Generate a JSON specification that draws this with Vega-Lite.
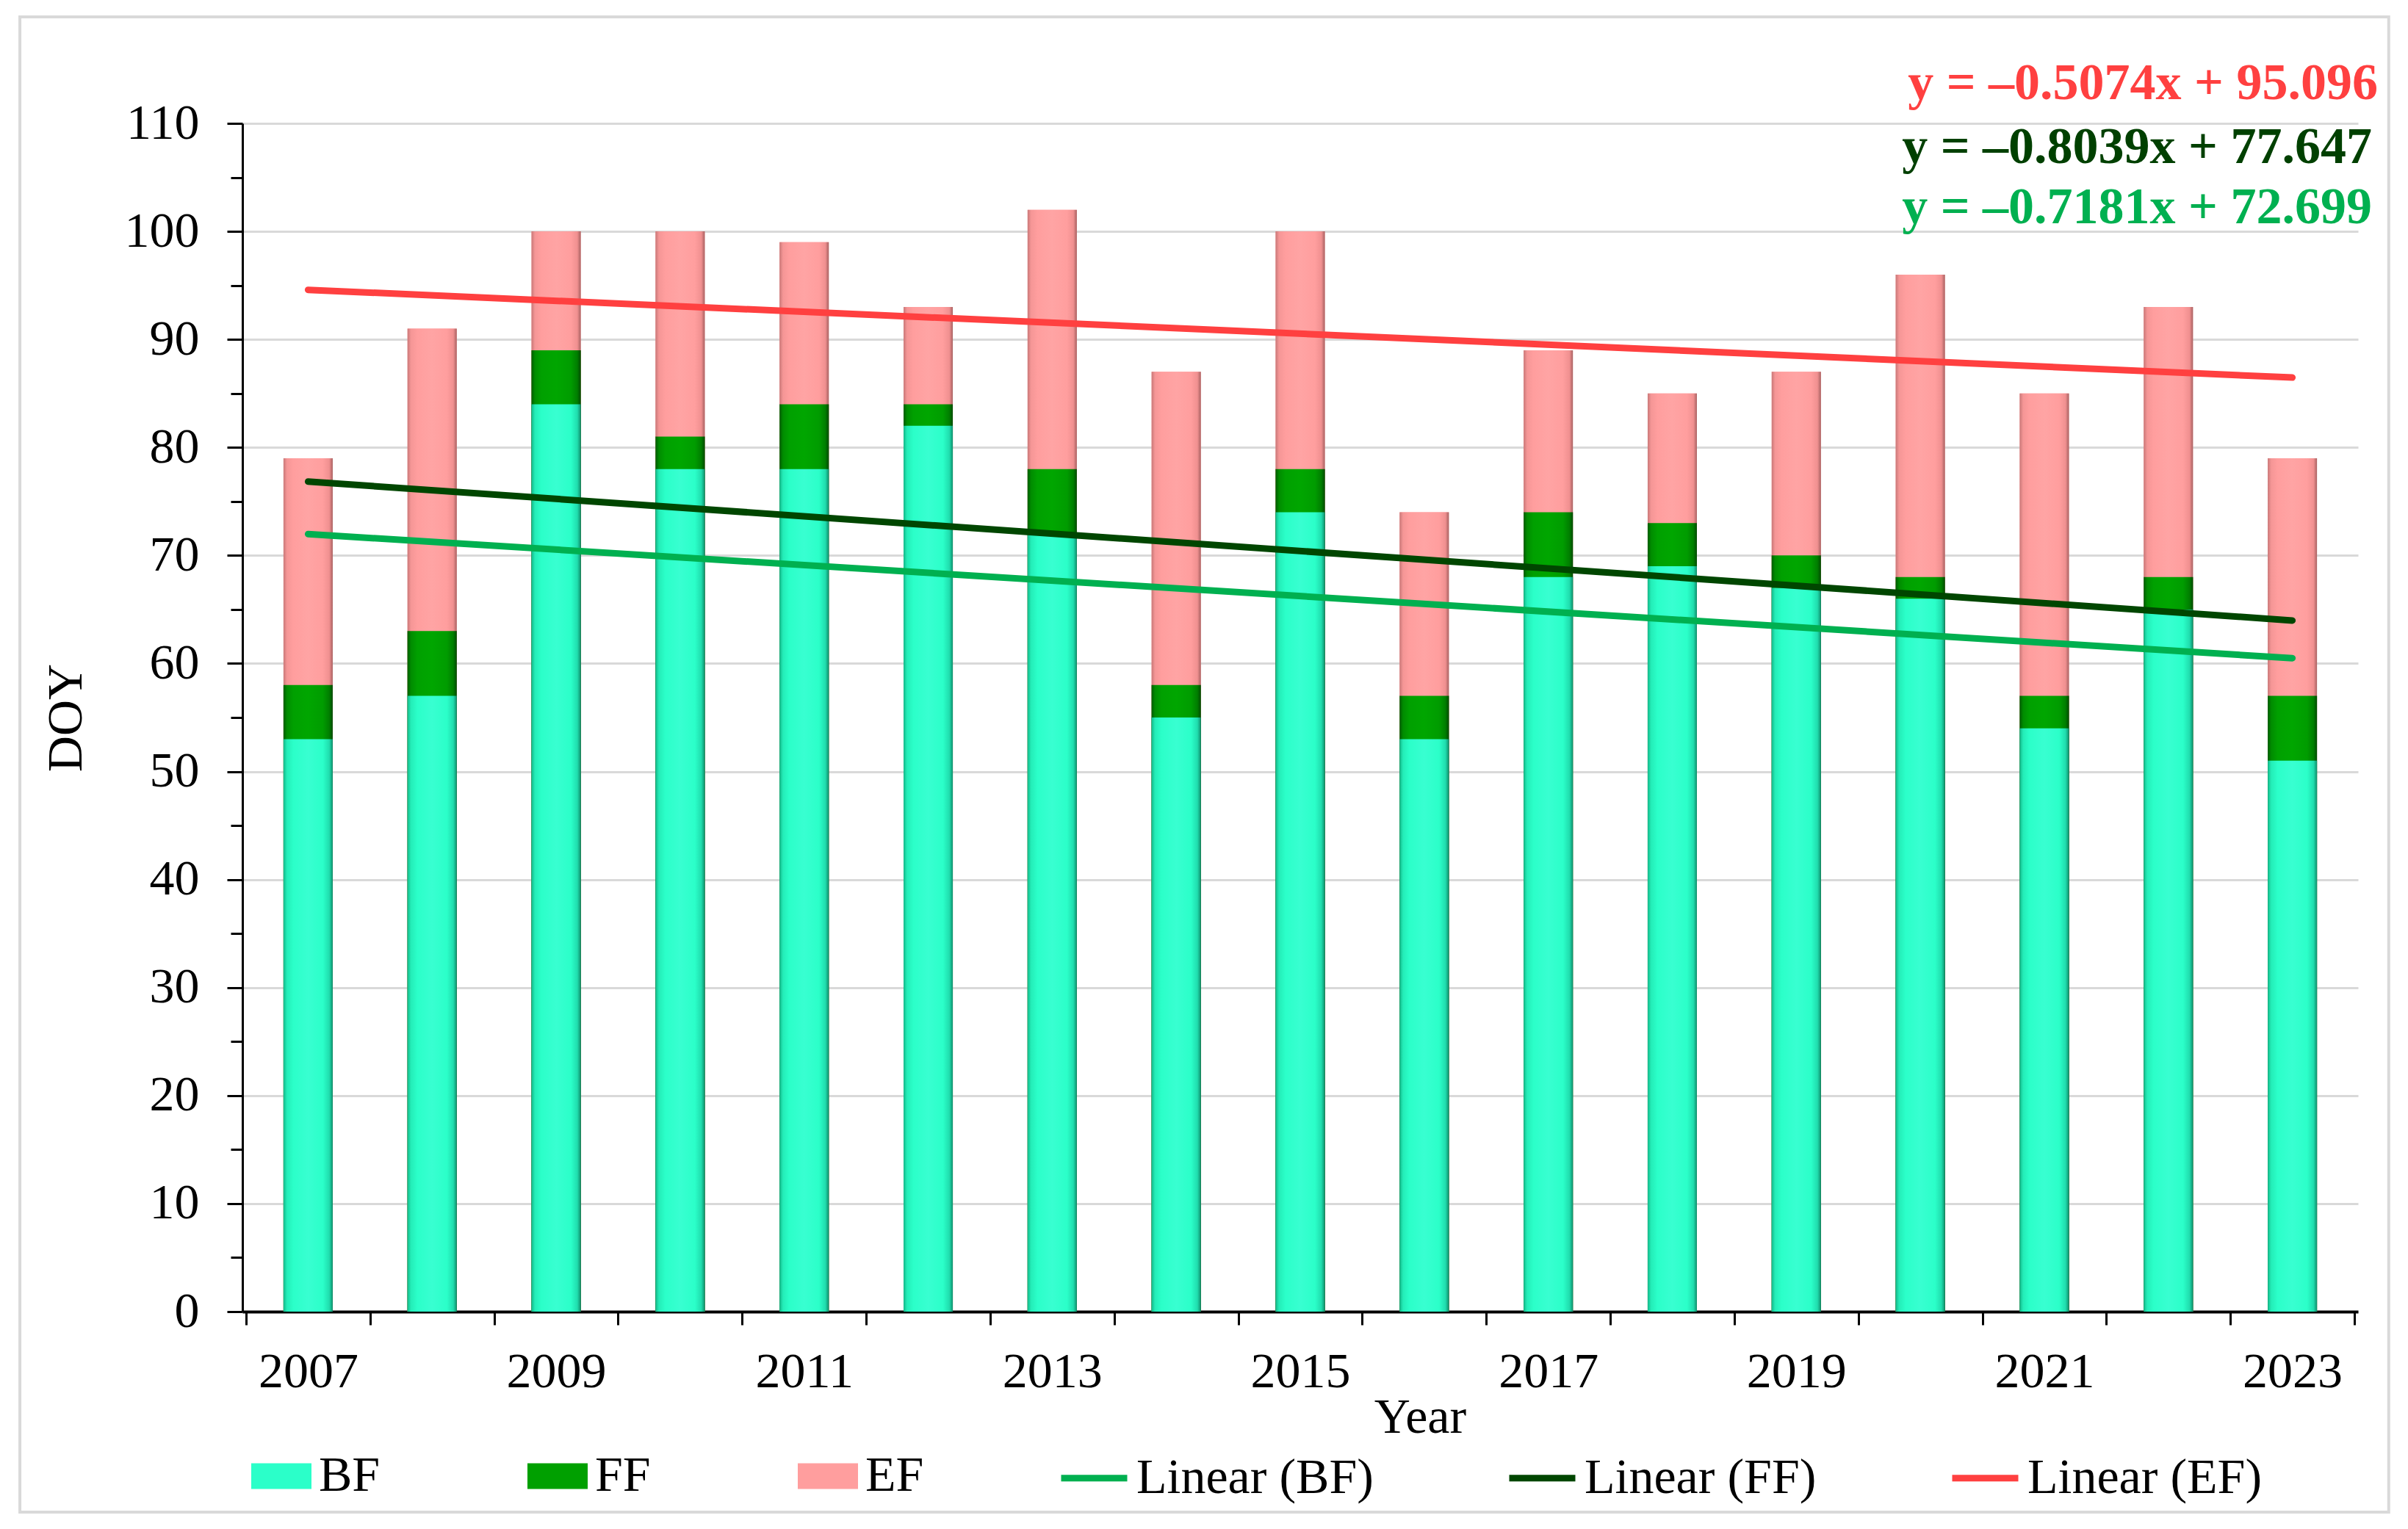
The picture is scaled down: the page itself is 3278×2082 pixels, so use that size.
{
  "$schema": "https://vega.github.io/schema/vega-lite/v6.json",
  "width": 2880,
  "height": 1618,
  "autosize": {"type": "none"},
  "padding": {"left": 330, "top": 168, "right": 68, "bottom": 296},
  "background": "white",
  "config": {
    "view": {"stroke": null},
    "font": "Liberation Serif",
    "text": {"font": "Liberation Serif"}
  },
  "data": {
    "values": [
      {"Year": 2007, "BF": 53, "FF": 58, "EF": 79},
      {"Year": 2008, "BF": 57, "FF": 63, "EF": 91},
      {"Year": 2009, "BF": 84, "FF": 89, "EF": 100},
      {"Year": 2010, "BF": 78, "FF": 81, "EF": 100},
      {"Year": 2011, "BF": 78, "FF": 84, "EF": 99},
      {"Year": 2012, "BF": 82, "FF": 84, "EF": 93},
      {"Year": 2013, "BF": 72, "FF": 78, "EF": 102},
      {"Year": 2014, "BF": 55, "FF": 58, "EF": 87},
      {"Year": 2015, "BF": 74, "FF": 78, "EF": 100},
      {"Year": 2016, "BF": 53, "FF": 57, "EF": 74},
      {"Year": 2017, "BF": 68, "FF": 74, "EF": 89},
      {"Year": 2018, "BF": 69, "FF": 73, "EF": 85},
      {"Year": 2019, "BF": 67, "FF": 70, "EF": 87},
      {"Year": 2020, "BF": 66, "FF": 68, "EF": 96},
      {"Year": 2021, "BF": 54, "FF": 57, "EF": 85},
      {"Year": 2022, "BF": 65, "FF": 68, "EF": 93},
      {"Year": 2023, "BF": 51, "FF": 57, "EF": 79}
    ]
  },
  "layer": [
    {
      "transform": [{"fold": ["EF", "FF", "BF"], "as": ["series", "val"]}],
      "mark": {"type": "bar", "size": 67},
      "encoding": {
        "x": {
          "field": "Year",
          "type": "quantitative",
          "title": "Year",
          "scale": {"domain": [2006.5, 2023.5], "nice": false, "zero": false},
          "axis": {
            "values": [2006.5, 2007, 2007.5, 2008, 2008.5, 2009, 2009.5, 2010, 2010.5, 2011, 2011.5, 2012, 2012.5, 2013, 2013.5, 2014, 2014.5, 2015, 2015.5, 2016, 2016.5, 2017, 2017.5, 2018, 2018.5, 2019, 2019.5, 2020, 2020.5, 2021, 2021.5, 2022, 2022.5, 2023, 2023.5],
            "labelExpr": "datum.value % 2 == 1 ? datum.value : ''",
            "labelFont": "Liberation Serif",
            "labelFontSize": 68,
            "labelColor": "black",
            "labelPadding": 30,
            "labelFlush": false,
            "labelOverlap": false,
            "tickSize": 18,
            "tickWidth": 3,
            "tickColor": "black",
            "tickOpacity": {"condition": {"test": "datum.value % 1 != 0", "value": 1}, "value": 0},
            "domainColor": "black",
            "domainWidth": 4,
            "grid": false,
            "titleFont": "Liberation Serif",
            "titleFontSize": 68,
            "titleFontWeight": "normal",
            "titleColor": "black",
            "titleX": 1603,
            "titleY": 164,
            "titleBaseline": "alphabetic",
            "titleAlign": "center"
          }
        },
        "y": {
          "field": "val",
          "type": "quantitative",
          "title": "DOY",
          "stack": null,
          "scale": {"domain": [0, 110], "nice": false},
          "axis": {
            "values": [0, 5, 10, 15, 20, 25, 30, 35, 40, 45, 50, 55, 60, 65, 70, 75, 80, 85, 90, 95, 100, 105, 110],
            "labelExpr": "datum.value % 10 == 0 ? datum.value : ''",
            "labelFont": "Liberation Serif",
            "labelFontSize": 68,
            "labelColor": "black",
            "labelPadding": 38,
            "labelFlush": false,
            "labelOverlap": false,
            "tickSize": {"condition": {"test": "datum.value % 10 != 0", "value": 16}, "value": 21},
            "tickWidth": 3,
            "tickColor": "black",
            "domainColor": "black",
            "domainWidth": 3,
            "grid": true,
            "gridColor": "#D9D9D9",
            "gridWidth": 3,
            "gridOpacity": {"condition": {"test": "datum.value % 10 == 0", "value": 1}, "value": 0},
            "titleFont": "Liberation Serif",
            "titleFontSize": 68,
            "titleFontWeight": "normal",
            "titleColor": "black",
            "titlePadding": 45
          }
        },
        "fill": {
          "field": "series",
          "type": "nominal",
          "scale": {"domain": ["BF", "FF", "EF"], "range": ["#2BFFC9", "#00A000", "#FF9E9E"]},
          "legend": {
            "orient": "none",
            "legendX": 12,
            "legendY": 1801,
            "direction": "horizontal",
            "title": null,
            "symbolType": "M-1,-0.427L1,-0.427L1,0.427L-1,0.427Z",
            "symbolSize": 6724,
            "symbolStrokeWidth": 0,
            "symbolOpacity": 1,
            "labelFont": "Liberation Serif",
            "labelFontSize": 68,
            "labelColor": "black",
            "labelOffset": 10,
            "labelLimit": 0,
            "columnPadding": 200
          }
        }
      }
    },
    {
      "transform": [{"fold": ["EF"], "as": ["series", "val"]}],
      "mark": {
        "type": "bar",
        "size": 67,
        "color": {
          "gradient": "linear", "x1": 0, "y1": 0, "x2": 1, "y2": 0,
          "stops": [
            {"offset": 0, "color": "#C97878"},
            {"offset": 0.07, "color": "#F59696"},
            {"offset": 0.2, "color": "#FF9E9E"},
            {"offset": 0.5, "color": "#FFA4A4"},
            {"offset": 0.8, "color": "#FF9E9E"},
            {"offset": 0.93, "color": "#F09090"},
            {"offset": 1, "color": "#A86262"}
          ]
        }
      },
      "encoding": {
        "x": {"field": "Year", "type": "quantitative", "title": "Year"},
        "y": {"field": "val", "type": "quantitative", "title": "DOY", "stack": null}
      }
    },
    {
      "transform": [{"fold": ["FF"], "as": ["series", "val"]}],
      "mark": {
        "type": "bar",
        "size": 67,
        "color": {
          "gradient": "linear", "x1": 0, "y1": 0, "x2": 1, "y2": 0,
          "stops": [
            {"offset": 0, "color": "#005C00"},
            {"offset": 0.07, "color": "#008C00"},
            {"offset": 0.2, "color": "#00A000"},
            {"offset": 0.5, "color": "#00A600"},
            {"offset": 0.8, "color": "#009C00"},
            {"offset": 0.93, "color": "#007E00"},
            {"offset": 1, "color": "#004A00"}
          ]
        }
      },
      "encoding": {
        "x": {"field": "Year", "type": "quantitative", "title": "Year"},
        "y": {"field": "val", "type": "quantitative", "title": "DOY", "stack": null}
      }
    },
    {
      "transform": [{"fold": ["BF"], "as": ["series", "val"]}],
      "mark": {
        "type": "bar",
        "size": 67,
        "color": {
          "gradient": "linear", "x1": 0, "y1": 0, "x2": 1, "y2": 0,
          "stops": [
            {"offset": 0, "color": "#14B88A"},
            {"offset": 0.07, "color": "#24EDB8"},
            {"offset": 0.2, "color": "#2BFFC9"},
            {"offset": 0.5, "color": "#38FFD1"},
            {"offset": 0.8, "color": "#2BFFC9"},
            {"offset": 0.93, "color": "#20DDAE"},
            {"offset": 1, "color": "#0F8F6C"}
          ]
        }
      },
      "encoding": {
        "x": {"field": "Year", "type": "quantitative", "title": "Year"},
        "y": {"field": "val", "type": "quantitative", "title": "DOY", "stack": null}
      }
    },
    {
      "transform": [{"regression": "BF", "on": "Year"}],
      "mark": {"type": "line", "strokeWidth": 9, "strokeCap": "round"},
      "encoding": {
        "x": {"field": "Year", "type": "quantitative", "title": "Year"},
        "y": {"field": "BF", "type": "quantitative", "title": "DOY"},
        "stroke": {
          "datum": "Linear (BF)",
          "type": "nominal",
          "scale": {"domain": ["Linear (BF)", "Linear (FF)", "Linear (EF)"], "range": ["#00B050", "#004600", "#FF4040"]},
          "legend": {
            "orient": "none",
            "legendX": 1110,
            "legendY": 1795,
            "direction": "horizontal",
            "title": null,
            "symbolType": "stroke",
            "symbolSize": 8100,
            "symbolStrokeWidth": 9,
            "labelFont": "Liberation Serif",
            "labelFontSize": 68,
            "labelColor": "black",
            "labelOffset": 8,
            "labelLimit": 0,
            "columnPadding": 166
          }
        }
      }
    },
    {
      "transform": [{"regression": "FF", "on": "Year"}],
      "mark": {"type": "line", "strokeWidth": 9, "strokeCap": "round"},
      "encoding": {
        "x": {"field": "Year", "type": "quantitative", "title": "Year"},
        "y": {"field": "FF", "type": "quantitative", "title": "DOY"},
        "stroke": {"datum": "Linear (FF)", "type": "nominal"}
      }
    },
    {
      "transform": [{"regression": "EF", "on": "Year"}],
      "mark": {"type": "line", "strokeWidth": 9, "strokeCap": "round"},
      "encoding": {
        "x": {"field": "Year", "type": "quantitative", "title": "Year"},
        "y": {"field": "EF", "type": "quantitative", "title": "DOY"},
        "stroke": {"datum": "Linear (EF)", "type": "nominal"}
      }
    },
    {
      "data": {"values": [{"frame": "border"}]},
      "mark": {"type": "rect", "fillOpacity": 0, "stroke": "#D9D9D9", "strokeWidth": 4},
      "encoding": {
        "x": {"datum": 2004.676, "type": "quantitative"},
        "x2": {"datum": 2023.777},
        "y": {"datum": 119.86, "type": "quantitative"},
        "y2": {"datum": -18.56}
      }
    },
    {
      "data": {"values": [{"eq": "y = –0.5074x + 95.096"}]},
      "mark": {"type": "text", "font": "Liberation Serif", "fontWeight": "bold", "fontSize": 70, "align": "right", "baseline": "alphabetic", "color": "#FF4040", "dx": 32},
      "encoding": {"text": {"field": "eq"}, "x": {"datum": 2023.5, "type": "quantitative"}, "y": {"datum": 112.25, "type": "quantitative"}}
    },
    {
      "data": {"values": [{"eq": "y = –0.8039x + 77.647"}]},
      "mark": {"type": "text", "font": "Liberation Serif", "fontWeight": "bold", "fontSize": 70, "align": "right", "baseline": "alphabetic", "color": "#004000", "dx": 24},
      "encoding": {"text": {"field": "eq"}, "x": {"datum": 2023.5, "type": "quantitative"}, "y": {"datum": 106.33, "type": "quantitative"}}
    },
    {
      "data": {"values": [{"eq": "y = –0.7181x + 72.699"}]},
      "mark": {"type": "text", "font": "Liberation Serif", "fontWeight": "bold", "fontSize": 70, "align": "right", "baseline": "alphabetic", "color": "#00B050", "dx": 24},
      "encoding": {"text": {"field": "eq"}, "x": {"datum": 2023.5, "type": "quantitative"}, "y": {"datum": 100.76, "type": "quantitative"}}
    }
  ]
}
